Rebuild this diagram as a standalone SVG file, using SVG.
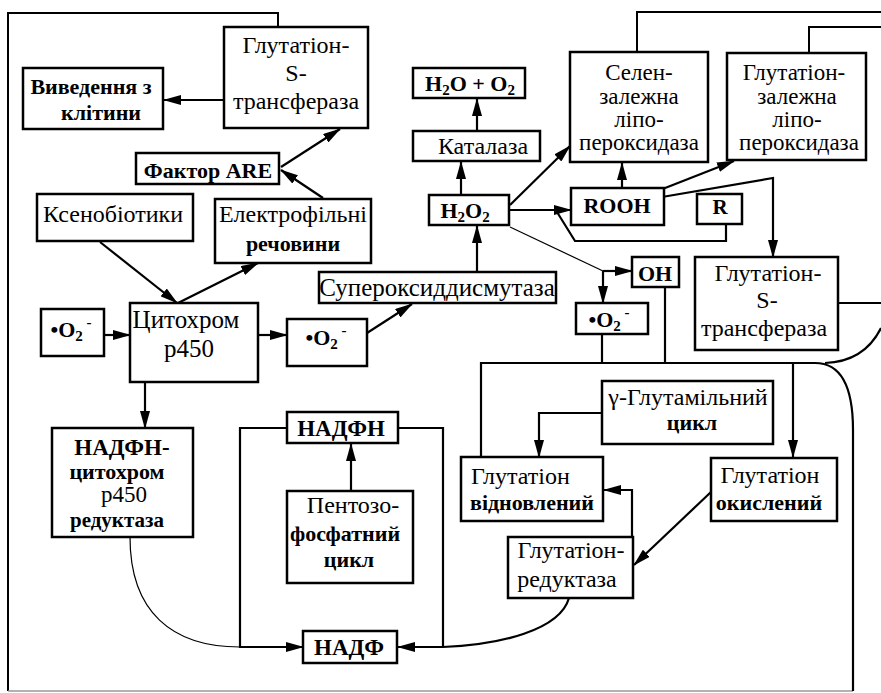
<svg xmlns="http://www.w3.org/2000/svg" width="881" height="693" viewBox="0 0 881 693">
<style>
.box{fill:#fff;stroke:#000;stroke-width:2.5}
.b{font-weight:bold}
.ln{fill:none;stroke:#000;stroke-width:2.2}
.th{fill:none;stroke:#000;stroke-width:1.2}
.fr{fill:none;stroke:#000;stroke-width:2}
.ar{marker-end:url(#ah)}
</style>
<defs>
<marker id="ah" viewBox="0 0 18 10" refX="17" refY="5" markerWidth="18" markerHeight="10" markerUnits="userSpaceOnUse" orient="auto"><path d="M0,0 L18,5 L0,10 z" fill="#000"/></marker>
</defs>
<rect width="881" height="693" fill="#fff"/>
<g id="connectors">
<path class="fr" d="M278 27 V13 H8 V691"/>
<path d="M8 691 H853" stroke="#999" stroke-width="1.5" fill="none"/>
<path class="fr" d="M637 52 V12 H881"/>
<path class="fr" d="M809 53 V27 H881"/>
<path class="ln" d="M838 303 H881"/>
<path class="ln" d="M881 328 C870 350 852 362 825 363"/>
<path class="ln" d="M481 457 V363 H815 C840 363 853 385 853 430 V691"/>
<path class="ln ar" d="M224 100 H164"/>
<path class="ln ar" d="M323 198 L281 170"/>
<path class="ln ar" d="M281 167 L340 129"/>
<path class="ln ar" d="M100 242 L177 303"/>
<path class="ln ar" d="M178 303 L258 263"/>
<path class="ln ar" d="M104 335 H130"/>
<path class="ln ar" d="M258 335 H287"/>
<path class="ln ar" d="M367 333 L412 304"/>
<path class="ln ar" d="M477 272 V226"/>
<path class="ln ar" d="M461 195 V162"/>
<path class="ln ar" d="M477 131 V99"/>
<path class="ln ar" d="M510 205 L570 146"/>
<path class="ln ar" d="M509 210 H571"/>
<path class="ln" d="M726 224 V241 H575 L557 212"/>
<path class="ln ar" d="M622 188 V163"/>
<path class="ln ar" d="M660 190 L734 161"/>
<path class="ln ar" d="M662 197 L773 178 V257"/>
<path class="th" d="M510 227 L603 271"/>
<path class="ln ar" d="M603 271 H632"/>
<path class="ln ar" d="M603 271 V303"/>
<path class="ln" d="M602 334 V363"/>
<path class="ln" d="M665 287 V363"/>
<path class="ln ar" d="M793 363 V457"/>
<path class="ln ar" d="M602 413 H539 V457"/>
<path class="ln ar" d="M711 492 L634 565"/>
<path class="ln ar" d="M632 537 V490 H604"/>
<path class="ln ar" d="M569 598 C560 630 500 645 443 647 H398"/>
<path class="ln" d="M398 428 H443 V647"/>
<path class="ln ar" d="M287 428 H240 V647 H303"/>
<path class="th" d="M130 537 C130 612 172 647 240 647" stroke-width="1.6"/>
<path class="ln ar" d="M351 491 V444"/>
<path class="ln ar" d="M145 382 V428"/>
</g>
<g id="nodes" font-family="Liberation Serif, Times New Roman, DejaVu Serif, serif" font-size="23" text-anchor="middle" fill="#000">
<g id="gst1"><rect class="box" x="224" y="27" width="144" height="101"/>
<text x="296" y="53" font-size="24">Глутатіон-</text><text x="296" y="81" font-size="24">S-</text><text x="296" y="109" font-size="24">трансфераза</text></g>
<g id="vyv"><rect class="box" x="23" y="68" width="140" height="61"/>
<text class="b" x="91" y="94" font-size="22">Виведення з</text><text class="b" x="101" y="120" font-size="22">клітини</text></g>
<g id="are"><rect class="box" x="136" y="153" width="143" height="31" stroke-width="3"/>
<text class="b" x="208" y="178" font-size="22">Фактор ARE</text></g>
<g id="ksen"><rect class="box" x="37" y="194" width="156" height="47"/>
<text x="113" y="222" font-size="24">Ксенобіотики</text></g>
<g id="elek"><rect class="box" x="215" y="199" width="156" height="64"/>
<text x="293" y="222" font-size="24">Електрофільні</text><text class="b" x="293" y="251" font-size="22">речовини</text></g>
<g id="cyt"><rect class="box" x="130" y="303" width="128" height="79"/>
<text x="186" y="328" font-size="25">Цитохром</text><text x="189" y="357" font-size="25">р450</text></g>
<g id="o2a"><rect class="box" x="41" y="309" width="63" height="47"/>
<text class="b" x="71" y="337" font-size="22">•O<tspan dy="4" font-size="15">2</tspan><tspan dy="-14" font-size="15"> -</tspan></text></g>
<g id="o2b"><rect class="box" x="287" y="319" width="80" height="47"/>
<text class="b" x="326" y="345" font-size="22">•O<tspan dy="4" font-size="15">2</tspan><tspan dy="-14" font-size="15"> -</tspan></text></g>
<g id="sod"><rect class="box" x="319" y="272" width="237" height="31"/>
<text x="437" y="296" font-size="25">Супероксиддисмутаза</text></g>
<g id="h2o2"><rect class="box" x="429" y="195" width="80" height="30"/>
<text class="b" x="465" y="218" font-size="22">H<tspan dy="4" font-size="15">2</tspan><tspan dy="-4">O</tspan><tspan dy="4" font-size="15">2</tspan></text></g>
<g id="kat"><rect class="box" x="413" y="131" width="127" height="30"/>
<text x="483" y="154" font-size="24">Каталаза</text></g>
<g id="h2o"><rect class="box" x="413" y="68" width="112" height="30"/>
<text class="b" x="470" y="91" font-size="22">H<tspan dy="4" font-size="15">2</tspan><tspan dy="-4">O + O</tspan><tspan dy="4" font-size="15">2</tspan></text></g>
<g id="selen"><rect class="box" x="570" y="52" width="138" height="110"/>
<text x="639" y="80" font-size="23">Селен-</text><text x="639" y="104" font-size="23">залежна</text><text x="639" y="127" font-size="23">ліпо-</text><text x="639" y="150" font-size="23">пероксидаза</text></g>
<g id="glzal"><rect class="box" x="727" y="53" width="139" height="107"/>
<text x="794" y="80" font-size="23">Глутатіон-</text><text x="797" y="104" font-size="23">залежна</text><text x="797" y="127" font-size="23">ліпо-</text><text x="799" y="150" font-size="23">пероксидаза</text></g>
<g id="rooh"><rect class="box" x="571" y="188" width="93" height="37"/>
<text class="b" x="617" y="213" font-size="22">ROOH</text></g>
<g id="r"><rect class="box" x="697" y="194" width="45" height="30"/>
<text class="b" x="720" y="214" font-size="21">R</text></g>
<g id="oh"><rect class="box" x="632" y="257" width="47" height="30"/>
<text class="b" x="655" y="281" font-size="22">OH</text></g>
<g id="o2c"><rect class="box" x="576" y="303" width="72" height="31"/>
<text class="b" x="609" y="327" font-size="22">•O<tspan dy="4" font-size="15">2</tspan><tspan dy="-14" font-size="15"> -</tspan></text></g>
<g id="gst2"><rect class="box" x="695" y="257" width="143" height="93"/>
<text x="768" y="281" font-size="24">Глутатіон-</text><text x="767" y="308" font-size="24">S-</text><text x="764" y="336" font-size="24">трансфераза</text></g>
<g id="gamma"><rect class="box" x="602" y="381" width="171" height="63"/>
<text x="688" y="405" font-size="24">γ-Глутамільний</text><text class="b" x="692" y="430" font-size="22">цикл</text></g>
<g id="gvid"><rect class="box" x="461" y="457" width="142" height="64"/>
<text x="471" y="484" font-size="24" text-anchor="start">Глутатіон</text><text class="b" x="532" y="510" font-size="22">відновлений</text></g>
<g id="gok"><rect class="box" x="711" y="458" width="126" height="63"/>
<text x="770" y="483" font-size="24">Глутатіон</text><text class="b" x="769" y="510" font-size="22">окислений</text></g>
<g id="gred"><rect class="box" x="508" y="537" width="125" height="61"/>
<text x="571" y="558" font-size="24">Глутатіон-</text><text x="567" y="587" font-size="24">редуктаза</text></g>
<g id="nadfh"><rect class="box" x="287" y="412" width="111" height="31"/>
<text class="b" x="341" y="436" font-size="23">НАДФН</text></g>
<g id="pent"><rect class="box" x="287" y="491" width="126" height="92"/>
<text x="353" y="513" font-size="24">Пентозо-</text><text class="b" x="345" y="541" font-size="22">фосфатний</text><text class="b" x="349" y="567" font-size="22">цикл</text></g>
<g id="nadf"><rect class="box" x="303" y="631" width="94" height="32"/>
<text class="b" x="349" y="655" font-size="23">НАДФ</text></g>
<g id="nadfred"><rect class="box" x="52" y="428" width="141" height="109"/>
<text class="b" x="122" y="455" font-size="23">НАДФН-</text><text class="b" x="117" y="479" font-size="22">цитохром</text><text x="124" y="502" font-size="23">р450</text><text class="b" x="117" y="527" font-size="21">редуктаза</text></g>
</g>
</svg>
